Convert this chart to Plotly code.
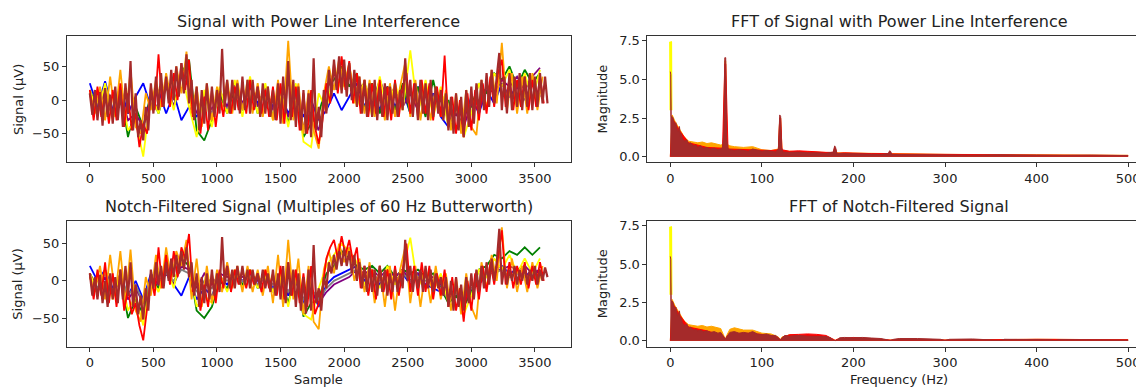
import plotly.graph_objects as go

W, H = 1144, 389
OFF = 8  # the page body adds an 8 px margin around the figure

# ---------------- time-domain signals (µV) ----------------
STEP_BROWN, STEP_RED, STEP_ORANGE, STEP_OTHER = 20, 30, 40, 60

brown_top = [
    10, -22, 15, -30, 12, -38, 18, -25, 8, -35,
    20, -30, 15, -40, 25, -20, 58, -45, 10, -55,
    -30, -60, -10, -45, 25, -20, 35, -15, 40, -10,
    35, -5, 45, 0, 50, 5, 55, 10, 68, -5,
    30, -30, 20, -45, 15, -35, 25, -30, 20, -25,
    15, -20, 76, -10, 30, -20, 30, -15, 25, -20,
    35, -15, 30, -20, 30, -10, 20, -25, 25, -20,
    20, -25, 15, -30, 25, -35, 35, -20, 58, -30,
    30, -40, 20, -45, 15, -50, 10, -55, 62, -45,
    -10, -55, 15, -20, 45, 5, 60, 15, 65, 10,
    60, 5, 55, 0, 45, -10, 35, -20, 30, -25,
    25, -25, 30, -30, 20, -25, 25, -30, 20, -20,
    25, -25, 15, -15, 62, -5, 30, -25, 25, -30,
    30, -20, 25, -30, 30, -25, 20, -20, 15, -30,
    10, -45, 5, -50, 10, -45, 5, -55, 15, -40,
    20, -35, 25, -20, 30, -15, 40, -10, 45, -5,
    35, 70, -15, 35, -20, 40, -15, 35, -10, 40,
    -15, 35, -10, 40, -15, 35, -10, 40, -5, 35, -5,
]
red_top = [
    15, -30, 20, -25, 10, -35, 15, -30, 25, -40,
    10, -45, -20, -70, -35, -50, 20, -15, 68, -10,
    30, -10, 40, 0, 55, 15, 60, -25, 10, -50,
    5, -45, 15, -40, 10, -25, 25, -20, 20, -15,
    25, -20, 30, -15, 20, -20, 15, -25, 20, -30,
    25, -35, 45, -25, 20, -45, 10, -50, 15, -40,
    -65, -30, 25, -5, 55, 10, 65, 15, 58, -5,
    40, -20, 30, -25, 25, -20, 30, -25, 20, -30,
    30, -25, 20, 40, -20, 25, -25, 30, -20, 25,
    -30, 20, -25, 66, -40, 5, -50, 0, -55, 10,
    -45, 15, -30, 25, -20, 35, -10, 40, 60, -10,
    35, -15, 30, -10, 35, -15, 30, -10, 35, -5,
]
orange_top = [
    10, -20, 20, -30, 35, -25, 45, -30, 45, -40,
    -50, 10, -15, 30, -10, 40, 0, 50, 10, 72,
    -20, 20, -40, 25, -30, 20, -15, 30, -20, 30,
    -15, 30, -20, 25, -25, 20, -30, 30, -35, 88,
    -30, 25, -50, 15, -45, -72, 10, 50, 15, 60,
    20, 55, -5, 35, -20, 30, -25, 25, -30, 25,
    -25, 20, 55, -25, 30, -30, 25, -30, 20, -25,
    15, -45, 10, -50, 15, -40, -52, 30, -15, 45,
    -5, 85, -15, 40, -20, 35, -20, 40, -15, 35,
]
yellow_top = [
    15, -20, 25, -30, 20, -45, -30, -84, 10, -20,
    30, -15, 45, -10, -55, 15, -40, 20, -20, 30,
    -25, 35, -20, 25, -30, 20, -40, 25, -62, -70,
    10, -15, 45, 15, 50, -10, 30, -25, 35, -20,
    25, -15, 74, -20, 30, -25, 20, -40, -10, -55,
    -20, 25, -10, 40, 20, 45, -5, 40, 0, 45,
]
blue_top = [
    25, -10, 28, -15, 20, -20, 5, 25, -10, 15,
    -20, 10, -30, -10, -25, 5, -20, 10, -15, 15,
    -10, 20, -5, 15, -10, 10, -20, 5, -25, 0,
    -30, -15, 10, -15, 5, 25, -10, 20, -15, 20,
    -10, 15, -20, 20, -15, 10, -25, -40, -5, -30,
    5, -20, 15, -5, 25, 5, 20, 0, 25, 5,
]
green_top = [
    15, -15, 10, -25, 15, -55, -10, -40, 10, -20,
    20, -10, 40, 60, -45, -60, -30, 10, -20, 20,
    -15, 25, -20, 20, -25, 15, -35, 20, -55, -35,
    -20, 20, 30, 50, 20, 40, -15, 25, -20, 20,
    -15, 25, -20, 20, -25, 30, -20, 0, -45, -20,
    -10, 25, 10, 40, 30, 50, 20, 45, 25, 40,
]
purple_top = [
    10, -20, 15, -25, 10, -30, -20, -40, 5, -15,
    25, -10, 35, 20, -20, 10, -15, 15, -10, 25,
    -5, 25, -10, 20, -15, 15, -25, 10, -40, -20,
    -45, 15, 40, 20, 35, 15, 25, -5, 30, 0,
    20, -10, 10, -15, 20, -10, 15, -35, -20, -40,
    -5, -15, 20, 10, 30, 20, 35, 15, 35, 48,
]

brown_bot = [
    10, -20, 5, -25, 8, -30, 0, -35, 10, -25,
    5, -30, 15, -25, 20, -20, 25, -35, -5, -45,
    -20, -52, -10, -40, 15, -10, 25, -5, 20, -10,
    25, 0, 30, 5, 35, 10, 40, 15, 45, 5,
    25, -20, 10, -35, 5, -30, 10, -25, 15, -20,
    10, -15, 59, -5, 20, -10, 15, -10, 20, -5,
    20, -5, 15, -10, 15, -5, 10, -10, 15, -10,
    10, -15, 15, -20, 10, -25, 20, -30, 25, -20,
    15, -35, 10, -40, 5, -44, 15, -40, 48, -30,
    -10, -40, 5, -10, 25, 10, 35, 15, 40, 20,
    45, 20, 40, 10, 35, 0, 25, -10, 20, -15,
    20, -15, 15, -20, 20, -15, 15, -20, 10, -15,
    15, -15, 10, -10, 55, 0, 20, -15, 15, -10,
    15, -15, 20, -10, 15, -15, 10, -10, 5, -20,
    5, -35, 0, -40, 5, -35, -5, -40, 5, -30,
    10, -25, 15, -15, 20, -10, 25, -5, 30, 0,
    25, 70, -5, 20, -5, 15, 0, 20, -5, 15,
    0, 20, -5, 15, 0, 20, -5, 15, 0, 18, 5,
]
red_bot = [
    10, -25, 15, -20, 25, -30, 10, -35, 15, -40,
    -10, -45, -30, -60, -80, -35, 5, -20, 45, -10,
    35, -5, 40, 5, 45, 30, 63, -15, 5, -40,
    -5, -35, 10, -30, 15, -10, 20, -15, 15, -5,
    15, -10, 15, -5, 10, -15, 15, -10, 10, -20,
    20, -25, 25, -20, 15, -30, 10, -35, 20, -45,
    -30, -10, 30, 45, 55, 30, 60, 35, 55, 25,
    45, -10, 20, -20, 15, -25, 20, -15, 15, -25,
    20, -20, 15, 50, -15, 20, -20, 25, -15, 20,
    -25, 10, -20, 15, -35, 5, -40, -10, -55, 0,
    -40, 10, -25, 20, -15, 25, -5, 35, 68, -5,
    25, -10, 20, -5, 25, -10, 20, -5, 25, 0,
]
orange_bot = [
    5, -15, 20, -25, 35, -20, 40, -30, 42, -40,
    -55, 5, -20, 35, -10, 45, 0, 40, 20, 55,
    -25, 30, -35, 20, -30, 15, -15, 25, -10, 20,
    -15, 20, -15, 15, -20, 20, -30, 35, -35, 55,
    -25, 30, -45, 20, -55, -65, 15, 40, 10, 50,
    25, 45, 0, 30, -15, 25, -30, 20, -35, 20,
    -40, 15, 45, -30, 20, -35, 15, -30, 20, -25,
    10, -40, 5, -45, 10, -35, -52, 25, -10, 35,
    0, 72, -10, 30, -15, 20, -15, 25, -10, 20,
]
yellow_bot = [
    10, -15, 15, -25, 10, -40, -20, -60, 5, -15,
    20, -10, 40, 25, -35, -20, -30, 10, -15, 15,
    -10, 15, -10, 15, -15, 10, -35, 15, -45, -52,
    -10, 20, 35, 50, 40, 25, -5, 15, -10, 20,
    -5, 15, 58, -10, 15, -15, 10, -30, -10, -45,
    -20, 15, 5, 30, 15, 35, 10, 30, 10, 30,
]
blue_bot = [
    20, 0, 15, -10, 5, -20, 0, -25, 10, -5,
    10, -5, -20, 5, -25, -10, -20, 5, -5, 10,
    0, 10, -5, 5, -10, 5, -20, 0, -30, -10,
    -35, -5, 5, 10, 15, 20, 0, 10, -5, 10,
    0, 10, -5, 10, -5, -10, -15, -25, -20, -30,
    -10, -5, 10, 15, 20, 10, 15, 5, 15, 10,
]
green_bot = [
    10, -10, 5, -20, 5, -50, -25, -45, 5, -10,
    15, -5, 30, 20, -40, -50, -35, 0, -10, 10,
    -5, 15, -10, 10, -15, 5, -30, 10, -48, -30,
    -25, 10, 20, 40, 30, 20, 15, 20, 10, 20,
    5, 15, 10, 15, 5, 10, -10, -30, -20, -35,
    -15, 15, 20, 35, 30, 40, 35, 45, 35, 45,
]
purple_bot = [
    10, -15, 5, -20, 5, -25, -10, -30, 5, -5,
    10, -5, 20, 15, -10, 10, -5, 10, 5, 10,
    5, 10, 0, 5, -5, 0, -15, 5, -25, -10,
    -30, -15, -5, 0, 5, 15, 10, 15, 5, 15,
    5, 15, 0, 10, 5, 5, -5, -25, -15, -30,
    -10, -5, 10, 15, 15, 20, 15, 20, 10, 15,
]
gray_bot = [
    5, -10, 10, -15, 10, -20, -5, -30, 5, 0,
    10, 0, 15, 10, -15, 0, -10, 5, 0, 5,
    0, 5, -5, 5, -5, 0, -15, 0, -25, -10,
    -25, -10, 0, 5, 10, 15, 5, 10, 0, 10,
    0, 10, 0, 5, 0, 0, -10, -25, -15, -25,
    -10, 0, 10, 10, 15, 5, 10, 5, 10, 5,
]

# ---------------- spectra (magnitude envelopes) ----------------
fft_top_freq = [0, 0.5, 1, 2, 3, 4, 5, 6, 7, 8, 9, 10, 11, 12, 13, 14, 16, 18, 20, 22, 25, 28, 30, 33,
                36, 40, 44, 48, 52, 55, 57, 58.5, 59.5, 60.5, 61.5, 63, 66, 70, 75, 80, 85, 90, 95,
                100, 105, 110, 115, 118, 119.5, 120.5, 121.5, 123, 130, 140, 150, 160, 170, 178,
                179.5, 180.5, 182, 190, 200, 210, 220, 230, 238, 239.5, 240.5, 242, 250, 270, 300,
                330, 360, 400, 430, 460, 500]
fft_top_brown = [5.5, 5.3, 2.6, 2.6, 2.5, 2.3, 2.0, 2.2, 1.8, 1.6, 1.7, 1.95, 1.3, 1.5, 1.2, 1.1, 1.0,
                 1.1, 0.8, 0.9, 0.7, 0.75, 0.6, 0.7, 0.55, 0.6, 0.5, 0.55, 0.45, 0.5, 0.6, 1.5, 6.4,
                 6.4, 1.2, 0.5, 0.45, 0.4, 0.45, 0.4, 0.35, 0.5, 0.4, 0.35, 0.4, 0.35, 0.3, 0.5, 2.7,
                 2.6, 0.6, 0.3, 0.28, 0.3, 0.25, 0.25, 0.22, 0.3, 0.7, 0.6, 0.2, 0.2, 0.18, 0.18,
                 0.16, 0.15, 0.2, 0.38, 0.35, 0.15, 0.14, 0.12, 0.1, 0.1, 0.12, 0.09, 0.09, 0.1, 0.07]
fft_top_orange_freq = [0, 1, 2, 5, 10, 15, 20, 25, 30, 35, 40, 45, 50, 55, 58, 59.5, 60.5, 62, 65,
                       70, 80, 90, 100, 110, 118, 119.5, 120.5, 122, 130, 150, 180, 240, 300, 400, 500]
fft_top_orange = [0, 2.0, 2.7, 2.3, 1.8, 1.3, 1.0, 0.95, 0.9, 0.95, 0.85, 0.9, 0.8, 0.75, 0.8, 6.2,
                  6.2, 0.8, 0.7, 0.65, 0.6, 0.65, 0.45, 0.4, 0.5, 2.5, 2.5, 0.4, 0.35, 0.3, 0.25,
                  0.2, 0.15, 0.12, 0.09]
fft_top_red_freq = [0, 1, 2, 10, 20, 40, 57, 59.5, 60.5, 63, 80, 100, 110, 118, 119.5, 120.5, 122,
                    130, 140, 150, 160, 170, 178, 179.5, 180.5, 182, 190, 200, 220, 238, 240, 242,
                    260, 300, 400, 500]
fft_top_red = [0, 2.0, 2.5, 1.7, 0.9, 0.6, 0.55, 6.0, 6.0, 0.5, 0.45, 0.4, 0.4, 0.45, 2.5, 2.5, 0.45,
               0.35, 0.38, 0.35, 0.3, 0.28, 0.28, 0.6, 0.5, 0.22, 0.25, 0.22, 0.2, 0.2, 0.3, 0.18,
               0.17, 0.13, 0.1, 0.08]

fft_bot_freq = [0, 0.5, 1, 2, 3, 4, 5, 6, 7, 8, 9, 10, 11, 12, 13, 14, 16, 18, 20, 22, 25, 28, 30, 33,
                36, 40, 44, 48, 52, 55, 58, 60, 62, 65, 70, 75, 80, 85, 90, 95, 100, 105, 110, 115,
                118, 120, 122, 125, 130, 140, 150, 160, 170, 175, 178, 180, 182, 185, 190, 200, 210,
                220, 230, 236, 240, 244, 250, 270, 295, 300, 305, 330, 355, 360, 365, 400, 415, 420,
                425, 460, 475, 480, 485, 500]
fft_bot_brown = [5.5, 5.3, 2.6, 2.6, 2.5, 2.3, 2.0, 2.2, 1.8, 1.6, 1.7, 1.95, 1.3, 1.5, 1.2, 1.1, 1.0,
                 1.1, 0.8, 0.9, 0.7, 0.75, 0.65, 0.7, 0.6, 0.65, 0.55, 0.6, 0.5, 0.55, 0.3, 0.1, 0.3,
                 0.55, 0.6, 0.5, 0.55, 0.5, 0.6, 0.45, 0.4, 0.45, 0.35, 0.35, 0.2, 0.05, 0.2, 0.35,
                 0.3, 0.35, 0.3, 0.3, 0.28, 0.2, 0.05, 0.02, 0.05, 0.2, 0.22, 0.2, 0.22, 0.18, 0.15,
                 0.08, 0.02, 0.1, 0.15, 0.15, 0.1, 0.03, 0.1, 0.12, 0.08, 0.03, 0.1, 0.1, 0.07, 0.03,
                 0.08, 0.07, 0.06, 0.03, 0.06, 0.05]
fft_bot_orange_freq = [0, 1, 2, 5, 10, 15, 20, 25, 30, 35, 40, 45, 50, 55, 58, 60, 62, 65, 70, 80,
                       90, 100, 110, 118, 120, 122, 130, 150, 178, 180, 182, 240, 300, 400, 500]
fft_bot_orange = [0, 2.0, 2.7, 2.3, 1.8, 1.3, 1.05, 1.0, 0.95, 1.0, 0.9, 0.95, 0.85, 0.8, 0.4, 0.1,
                  0.4, 0.75, 0.85, 0.7, 0.7, 0.5, 0.45, 0.25, 0.05, 0.25, 0.38, 0.35, 0.1, 0.02,
                  0.1, 0.05, 0.05, 0.1, 0.07]
fft_bot_red_freq = [0, 1, 2, 10, 20, 40, 58, 60, 62, 80, 100, 118, 120, 122, 130, 140, 150, 160, 170,
                    178, 180, 182, 200, 240, 300, 400, 500]
fft_bot_red = [0, 2.0, 2.5, 1.7, 0.9, 0.65, 0.3, 0.08, 0.3, 0.5, 0.42, 0.2, 0.05, 0.2, 0.4, 0.42,
               0.45, 0.42, 0.35, 0.1, 0.02, 0.1, 0.22, 0.05, 0.05, 0.1, 0.07]
fft_yellow_freq = [0, 0.3, 0.7]
fft_yellow = [7.45, 7.4, 3.0]

COLORS = {"blue": "#0000ff", "green": "#008000", "purple": "#800080", "gray": "#808080",
          "yellow": "#ffff00", "orange": "#ffa500", "red": "#ff0000", "brown": "#a52a2a"}

fig = go.Figure()


def xs(values, step):
    return [min(i * step, 3599) for i in range(len(values))]


def add_sig(values, step, color, xa, ya, width):
    fig.add_trace(go.Scatter(x=xs(values, step), y=values, mode="lines",
                             line=dict(color=COLORS[color], width=width),
                             xaxis=xa, yaxis=ya, showlegend=False, hoverinfo="skip"))


top = [(blue_top, STEP_OTHER, "blue"), (green_top, STEP_OTHER, "green"),
       (purple_top, STEP_OTHER, "purple"), (yellow_top, STEP_OTHER, "yellow"),
       (orange_top, STEP_ORANGE, "orange"), (red_top, STEP_RED, "red"),
       (brown_top, STEP_BROWN, "brown")]
bot = [(blue_bot, STEP_OTHER, "blue"), (green_bot, STEP_OTHER, "green"),
       (purple_bot, STEP_OTHER, "purple"), (gray_bot, STEP_OTHER, "gray"),
       (yellow_bot, STEP_OTHER, "yellow"), (orange_bot, STEP_ORANGE, "orange"),
       (red_bot, STEP_RED, "red"), (brown_bot, STEP_BROWN, "brown")]
for v, s, c in top:
    add_sig(v, s, c, "x", "y", 2.2 if c == "brown" else 1.8)
for v, s, c in bot:
    add_sig(v, s, c, "x3", "y3", 2.2 if c == "brown" else 1.8)


def add_fft(f, m, color, xa, ya, fill=True, width=1.0):
    fig.add_trace(go.Scatter(x=f, y=m, mode="lines", line=dict(color=COLORS[color], width=width),
                             fill="tozeroy" if fill else None, fillcolor=COLORS[color],
                             xaxis=xa, yaxis=ya, showlegend=False, hoverinfo="skip"))


for xa, ya, fo, mo, fr, mr, fb, mb in [
    ("x2", "y2", fft_top_orange_freq, fft_top_orange, fft_top_red_freq, fft_top_red, fft_top_freq, fft_top_brown),
    ("x4", "y4", fft_bot_orange_freq, fft_bot_orange, fft_bot_red_freq, fft_bot_red, fft_bot_freq, fft_bot_brown),
]:
    add_fft(fft_yellow_freq, fft_yellow, "yellow", xa, ya, fill=False, width=3)
    add_fft(fo, mo, "orange", xa, ya)
    add_fft(fr, mr, "red", xa, ya)
    add_fft(fb, mb, "brown", xa, ya)


# ---------------- layout (positions given in page pixels of the reference) ----------------
def px_x(p):
    return (p - OFF) / W


def px_y(p):
    return 1 - (p - OFF) / H


LX = [px_x(67), px_x(571)]
RX = [px_x(648), 1.0]
TY = [px_y(162), px_y(34)]
BY = [px_y(348), px_y(221)]

LINE = "#333333"
TXT = "#222222"
FONT = "DejaVu Sans"
tickfont = dict(family=FONT, size=13, color=TXT)


def xax(domain, anchor, rng, dtick, mirror=True):
    return dict(domain=domain, anchor=anchor, range=rng, dtick=dtick, tick0=0, showgrid=False,
                zeroline=False, showline=True, linecolor=LINE, linewidth=1, mirror=mirror,
                ticks="outside", ticklen=4, tickcolor=LINE, tickfont=tickfont)


def yax(domain, anchor, rng, tickvals, fmt=None, mirror=True):
    d = dict(domain=domain, anchor=anchor, range=rng, tickvals=tickvals, showgrid=False,
             zeroline=False, showline=True, linecolor=LINE, linewidth=1, mirror=mirror,
             ticks="outside", ticklen=4, tickcolor=LINE, tickfont=tickfont)
    if fmt:
        d["tickformat"] = fmt
    return d


fig.update_layout(
    width=W, height=H, autosize=False,
    margin=dict(l=0, r=0, t=0, b=0, pad=0),
    paper_bgcolor="white", plot_bgcolor="white",
    xaxis=xax(LX, "y", [-180, 3780], 500),
    yaxis=yax(TY, "x", [-92.6, 95.6], [-50, 0, 50]),
    xaxis2=xax(RX, "y2", [-25, 525], 100),
    yaxis2=yax(TY, "x2", [-0.37, 7.82], [0, 2.5, 5, 7.5], ".1f"),
    xaxis3=xax(LX, "y3", [-180, 3780], 500),
    yaxis3=yax(BY, "x3", [-88.3, 80.7], [-50, 0, 50]),
    xaxis4=xax(RX, "y4", [-25, 525], 100),
    yaxis4=yax(BY, "x4", [-0.37, 7.82], [0, 2.5, 5, 7.5], ".1f"),
)

ann = []


def text(t, x, y, size, angle=0):
    ann.append(dict(text=t, x=px_x(x), y=px_y(y), xref="paper", yref="paper", showarrow=False,
                    xanchor="center", yanchor="middle", textangle=angle,
                    font=dict(family=FONT, size=size, color=TXT)))


text("Signal with Power Line Interference", 319, 20, 16)
text("FFT of Signal with Power Line Interference", 900, 20, 16)
text("Notch-Filtered Signal (Multiples of 60 Hz Butterworth)", 319, 207, 16)
text("FFT of Notch-Filtered Signal", 900, 207, 16)
text("Signal (µV)", 18, 98, 13, -90)
text("Signal (µV)", 18, 284.5, 13, -90)
text("Magnitude", 603, 98, 13, -90)
text("Magnitude", 603, 284.5, 13, -90)
text("Sample", 319, 381, 13)
text("Frequency (Hz)", 900, 381, 13)
fig.update_layout(annotations=ann)

fig.write_html("out.html")
